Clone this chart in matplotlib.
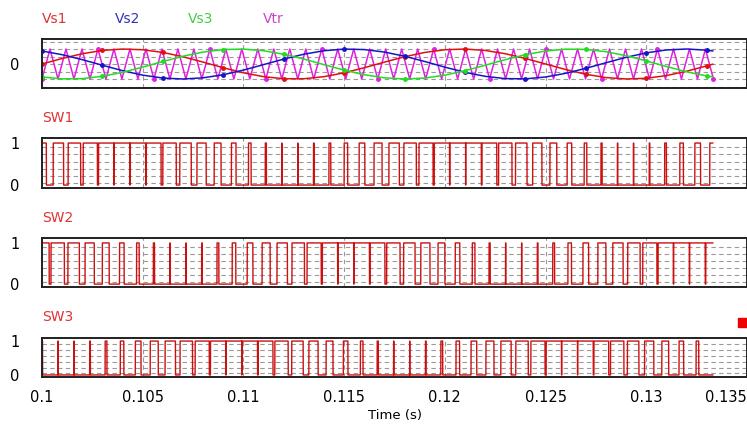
import numpy as np
import matplotlib.pyplot as plt
from matplotlib.patches import Rectangle

# time of samples, ms after t = 0.1 s
t_start = 0.1
t_ms = [0, 1, 2, 3, 4, 5, 6, 7, 8, 9, 10, 11, 12, 13, 14, 15, 16,
        17, 18, 19, 20, 21, 22, 23, 24, 25, 26, 27, 28, 29, 30, 31, 32, 33, 33.3]

vs1 = [0.0, 0.368, 0.685, 0.905, 0.998, 0.951, 0.771, 0.482, 0.125, -0.249,
       -0.588, -0.844, -0.982, -0.982, -0.844, -0.588, -0.249, 0.125, 0.482,
       0.771, 0.951, 0.998, 0.905, 0.685, 0.368, 0.0, -0.368, -0.685, -0.905,
       -0.998, -0.951, -0.771, -0.482, -0.125, -0.013]
vs2 = [0.866, 0.621, 0.289, -0.084, -0.445, -0.743, -0.937, -1.0, -0.922, -0.714,
       -0.407, -0.042, 0.329, 0.653, 0.886, 0.995, 0.963, 0.796, 0.518, 0.167,
       -0.208, -0.553, -0.821, -0.974, -0.989, -0.866, -0.621, -0.289, 0.084,
       0.445, 0.743, 0.937, 1.0, 0.922, 0.872]
vs3 = [-0.866, -0.989, -0.974, -0.821, -0.553, -0.208, 0.167, 0.518, 0.796, 0.963,
       0.995, 0.886, 0.653, 0.329, -0.042, -0.407, -0.714, -0.922, -1.0, -0.937,
       -0.743, -0.445, -0.084, 0.289, 0.621, 0.866, 0.989, 0.974, 0.821, 0.553,
       0.208, -0.167, -0.518, -0.796, -0.860]

# triangle carrier corners (ms) and levels
tri_ms = [0.000, 0.397, 0.794, 1.190, 1.587, 1.984, 2.381, 2.778, 3.175, 3.571,
          3.968, 4.365, 4.762, 5.159, 5.556, 5.952, 6.349, 6.746, 7.143, 7.540,
          7.937, 8.333, 8.730, 9.127, 9.524, 9.921, 10.317, 10.714, 11.111, 11.508,
          11.905, 12.302, 12.698, 13.095, 13.492, 13.889, 14.286, 14.683, 15.079, 15.476,
          15.873, 16.270, 16.667, 17.063, 17.460, 17.857, 18.254, 18.651, 19.048, 19.444,
          19.841, 20.238, 20.635, 21.032, 21.429, 21.825, 22.222, 22.619, 23.016, 23.413,
          23.810, 24.206, 24.603, 25.000, 25.397, 25.794, 26.190, 26.587, 26.984, 27.381,
          27.778, 28.175, 28.571, 28.968, 29.365, 29.762, 30.159, 30.556, 30.952, 31.349,
          31.746, 32.143, 32.540, 32.937, 33.333]
tri_v = [-1, 1, -1, 1, -1, 1, -1, 1, -1, 1, -1, 1, -1, 1, -1, 1, -1, 1, -1, 1,
         -1, 1, -1, 1, -1, 1, -1, 1, -1, 1, -1, 1, -1, 1, -1, 1, -1, 1, -1, 1,
         -1, 1, -1, 1, -1, 1, -1, 1, -1, 1, -1, 1, -1, 1, -1, 1, -1, 1, -1, 1,
         -1, 1, -1, 1, -1, 1, -1, 1, -1, 1, -1, 1, -1, 1, -1, 1, -1, 1, -1, 1,
         -1, 1, -1, 1, -1]

xticks = [0.1, 0.105, 0.11, 0.115, 0.12, 0.125, 0.13, 0.135]
xlabels = ['0.1', '0.105', '0.11', '0.115', '0.12', '0.125', '0.13', '0.135']

t = t_start + np.array(t_ms) / 1000
tt = t_start + np.array(tri_ms) / 1000

# switching signals: sine compared to carrier
tf = np.linspace(0, 33.3, 26641)
car = np.interp(tf, tri_ms, tri_v)
sw1 = (np.interp(tf, t_ms, vs1) > car).astype(float)
sw2 = (np.interp(tf, t_ms, vs2) > car).astype(float)
sw3 = (np.interp(tf, t_ms, vs3) > car).astype(float)
tfs = t_start + tf / 1000

W_PX, H_PX = 747, 425
fig = plt.figure(figsize=(7.47, 4.25), dpi=100)
plt.rcParams['font.family'] = 'DejaVu Sans'


def pos(top, bot):
    left = 42 / W_PX
    return [left, 1 - bot / H_PX, 1 - left, (bot - top) / H_PX]


def style(ax, hl, ylim, yt):
    ax.set_xlim(0.1, 0.135)
    ax.set_ylim(*ylim)
    for y in hl:
        ax.axhline(y, color='#9a9a9a', lw=0.8, ls=(0, (4, 3)), zorder=0)
    for x in xticks[1:-1]:
        ax.axvline(x, color='#9a9a9a', lw=0.8, ls=(0, (4, 3)), zorder=0)
    ax.set_xticks(xticks)
    ax.set_yticks(yt)
    ax.set_yticklabels([str(v) for v in yt])
    ax.tick_params(length=0, labelsize=10.5, pad=9)
    ax.tick_params(axis='y', pad=16)
    for s in ax.spines.values():
        s.set_color('#202020')
        s.set_linewidth(1.4)


ax0 = fig.add_axes(pos(39, 88))
style(ax0, [-1.5, -1.0, -0.5, 0, 0.5, 1.0, 1.5], (-1.6, 1.667), [0])
ax0.plot(tt, tri_v, color='#e020e0', lw=1.1, marker='o', ms=2.5, markevery=7)
ax0.plot(t, vs1, color='#e01010', lw=1.1, marker='o', ms=2.5, markevery=3)
ax0.plot(t, vs2, color='#1515c8', lw=1.1, marker='o', ms=2.5, markevery=3)
ax0.plot(t, vs3, color='#20dd20', lw=1.1, marker='o', ms=2.5, markevery=3)
ax0.set_xticklabels([])

sw_hl = [0.05, 0.22, 0.39, 0.56, 0.73, 0.9]
ax1 = fig.add_axes(pos(138, 188))
style(ax1, sw_hl, (-0.07, 1.12), [0, 1])
ax1.plot(tfs, sw1, color='#cc1010', lw=1.0)
ax1.set_xticklabels([])

ax2 = fig.add_axes(pos(238, 287))
style(ax2, sw_hl, (-0.07, 1.12), [0, 1])
ax2.plot(tfs, sw2, color='#cc1010', lw=1.0)
ax2.set_xticklabels([])

ax3 = fig.add_axes(pos(338, 377))
style(ax3, sw_hl, (-0.06, 1.09), [0, 1])
ax3.plot(tfs, sw3, color='#cc1010', lw=1.0)
ax3.set_xticklabels(xlabels)
ax3.get_xticklabels()[-1].set_horizontalalignment('right')
ax3.set_xlabel('Time (s)', fontsize=9.5, labelpad=3)

# curve names
fs = 10
fig.text(42 / W_PX, 1 - 19 / H_PX, 'Vs1', color='#dd3333', fontsize=fs, va='center')
fig.text(115 / W_PX, 1 - 19 / H_PX, 'Vs2', color='#3333bb', fontsize=fs, va='center')
fig.text(188 / W_PX, 1 - 19 / H_PX, 'Vs3', color='#44cc44', fontsize=fs, va='center')
fig.text(263 / W_PX, 1 - 19 / H_PX, 'Vtr', color='#cc44cc', fontsize=fs, va='center')
fig.text(42 / W_PX, 1 - 118 / H_PX, 'SW1', color='#dd3333', fontsize=fs, va='center')
fig.text(42 / W_PX, 1 - 218 / H_PX, 'SW2', color='#dd3333', fontsize=fs, va='center')
fig.text(42 / W_PX, 1 - 317 / H_PX, 'SW3', color='#dd3333', fontsize=fs, va='center')

fig.add_artist(Rectangle((738 / W_PX, 1 - 327 / H_PX), 9 / W_PX, 9 / H_PX,
                         transform=fig.transFigure, color='#ee0000'))

fig.savefig('out.png', dpi=100)
